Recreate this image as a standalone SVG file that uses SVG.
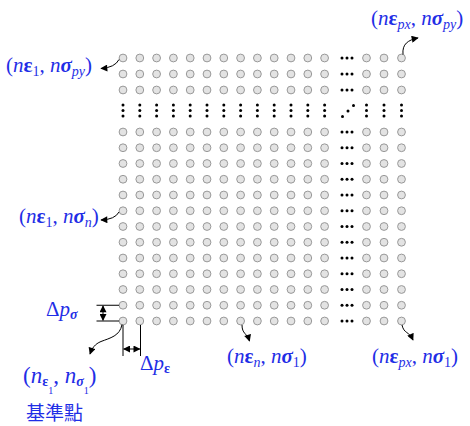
<svg xmlns="http://www.w3.org/2000/svg" xmlns:xlink="http://www.w3.org/1999/xlink" width="470" height="426" viewBox="0 0 470 426">
<style>
.pt{fill:#e3e3e3;stroke:#999;stroke-width:1}
.dt{fill:#000}
.lbl{font-family:"Liberation Serif","DejaVu Serif",serif;font-size:21px;fill:#1f2ee6}
.it{font-style:italic}
.b{font-weight:bold}
.sub{font-size:14px}
.ss{font-size:10px}
.big{font-size:23px}
.cjk{font-family:"Noto Sans CJK TC","Noto Sans CJK SC",sans-serif;font-size:19px;fill:#1f2ee6}
.con{fill:none;stroke:#000;stroke-width:1}
</style>
<defs>
<marker id="ah" viewBox="0 0 10 10" refX="9" refY="5" markerWidth="8" markerHeight="7" orient="auto-start-reverse" markerUnits="userSpaceOnUse"><path d="M0,0 L10,5 L0,10 z" fill="#000"/></marker>
<g id="row">
<circle class="pt" cx="123" cy="0" r="3.9"/><circle class="pt" cx="139.8" cy="0" r="3.9"/><circle class="pt" cx="156.6" cy="0" r="3.9"/><circle class="pt" cx="173.4" cy="0" r="3.9"/><circle class="pt" cx="190.2" cy="0" r="3.9"/><circle class="pt" cx="207" cy="0" r="3.9"/><circle class="pt" cx="223.8" cy="0" r="3.9"/><circle class="pt" cx="240.6" cy="0" r="3.9"/><circle class="pt" cx="257.4" cy="0" r="3.9"/><circle class="pt" cx="274.2" cy="0" r="3.9"/><circle class="pt" cx="291" cy="0" r="3.9"/><circle class="pt" cx="307.8" cy="0" r="3.9"/><circle class="pt" cx="324.6" cy="0" r="3.9"/>
<circle class="dt" cx="342" cy="0" r="1.5"/><circle class="dt" cx="347" cy="0" r="1.5"/><circle class="dt" cx="352" cy="0" r="1.5"/>
<circle class="pt" cx="366.5" cy="0" r="3.9"/><circle class="pt" cx="384" cy="0" r="3.9"/><circle class="pt" cx="401.5" cy="0" r="3.9"/>
</g>
<g id="vd"><circle class="dt" cx="0" cy="-5.5" r="1.5"/><circle class="dt" cx="0" cy="0" r="1.5"/><circle class="dt" cx="0" cy="5.5" r="1.5"/></g>
</defs>

<g id="grid">
<use href="#row" y="58"/><use href="#row" y="74"/><use href="#row" y="90"/>
<g id="dots-row" transform="translate(0,110.5)">
<use href="#vd" x="123"/><use href="#vd" x="139.8"/><use href="#vd" x="156.6"/><use href="#vd" x="173.4"/><use href="#vd" x="190.2"/><use href="#vd" x="207"/><use href="#vd" x="223.8"/><use href="#vd" x="240.6"/><use href="#vd" x="257.4"/><use href="#vd" x="274.2"/><use href="#vd" x="291"/><use href="#vd" x="307.8"/><use href="#vd" x="324.6"/>
<circle class="dt" cx="342.5" cy="6" r="1.5"/><circle class="dt" cx="348" cy="0.5" r="1.5"/><circle class="dt" cx="353.5" cy="-5" r="1.5"/>
<use href="#vd" x="366.5"/><use href="#vd" x="384"/><use href="#vd" x="401.5"/>
</g>
<use href="#row" y="132"/><use href="#row" y="147.75"/><use href="#row" y="163.5"/><use href="#row" y="179.25"/><use href="#row" y="195"/><use href="#row" y="210.75"/><use href="#row" y="226.5"/><use href="#row" y="242.25"/><use href="#row" y="258"/><use href="#row" y="273.75"/><use href="#row" y="289.5"/><use href="#row" y="305.25"/><use href="#row" y="321"/>
</g>

<g id="connectors">
<path class="con" d="M119,59.5 Q115,67.5 101,68.5" marker-end="url(#ah)"/>
<path class="con" d="M403,54.5 C402,44 408,40 418,38" marker-end="url(#ah)"/>
<path class="con" d="M119,212 Q115,219.5 101,220" marker-end="url(#ah)"/>
<path class="con" d="M242,325 C242,334 247,333 249.5,341" marker-end="url(#ah)"/>
<path class="con" d="M402,325 C404,334 409,331 413,340" marker-end="url(#ah)"/>
<path class="con" d="M122,324.5 C120,336 110,338 101,341.5 C95,344 92,348 90,354" marker-end="url(#ah)"/>
<g id="dim-sigma">
<path class="con" d="M96.5,305.25 H119.1 M96.5,321 H119.1"/>
<path class="con" d="M103,306 V320.3" marker-start="url(#ah)" marker-end="url(#ah)"/>
</g>
<g id="dim-eps">
<path class="con" d="M123,325 V356 M140.5,325 V356"/>
<path class="con" d="M123.7,349 H139.8" marker-start="url(#ah)" marker-end="url(#ah)"/>
</g>
</g>

<g id="label-top-left"><text class="lbl" x="6" y="72">(<tspan class="it">n</tspan><tspan class="b">ε</tspan><tspan class="sub" dy="4">1</tspan><tspan dy="-4">, </tspan><tspan class="it">n</tspan><tspan class="it b">σ</tspan><tspan class="sub it" dy="4">py</tspan><tspan dy="-4">)</tspan></text></g>
<g id="label-top-right"><text class="lbl" x="371" y="25">(<tspan class="it">n</tspan><tspan class="b">ε</tspan><tspan class="sub it" dy="4">px</tspan><tspan dy="-4">, </tspan><tspan class="it">n</tspan><tspan class="it b">σ</tspan><tspan class="sub it" dy="4">py</tspan><tspan dy="-4">)</tspan></text></g>
<g id="label-mid-left"><text class="lbl" x="19" y="223">(<tspan class="it">n</tspan><tspan class="b">ε</tspan><tspan class="sub" dy="4">1</tspan><tspan dy="-4">, </tspan><tspan class="it">n</tspan><tspan class="it b">σ</tspan><tspan class="sub it" dy="4">n</tspan><tspan dy="-4">)</tspan></text></g>
<g id="label-bottom-mid"><text class="lbl" x="227" y="363">(<tspan class="it">n</tspan><tspan class="b">ε</tspan><tspan class="sub it" dy="4">n</tspan><tspan dy="-4">, </tspan><tspan class="it">n</tspan><tspan class="it b">σ</tspan><tspan class="sub" dy="4">1</tspan><tspan dy="-4">)</tspan></text></g>
<g id="label-bottom-right"><text class="lbl" x="372" y="363">(<tspan class="it">n</tspan><tspan class="b">ε</tspan><tspan class="sub it" dy="4">px</tspan><tspan dy="-4">, </tspan><tspan class="it">n</tspan><tspan class="it b">σ</tspan><tspan class="sub" dy="4">1</tspan><tspan dy="-4">)</tspan></text></g>
<g id="label-dp-sigma"><text class="lbl" x="46" y="316">Δ<tspan class="it">p</tspan><tspan class="sub it b" dy="3">σ</tspan></text></g>
<g id="label-dp-eps"><text class="lbl" x="140" y="370">Δ<tspan class="it">p</tspan><tspan class="sub b" dy="3">ε</tspan></text></g>
<g id="label-base">
<text class="lbl big" x="23" y="383">(<tspan class="it">n</tspan><tspan class="sub b" dy="3">ε</tspan><tspan class="ss" dy="8">1</tspan><tspan dy="-11">, </tspan><tspan class="it">n</tspan><tspan class="sub it b" dy="3">σ</tspan><tspan class="ss" dy="8">1</tspan><tspan dy="-11">)</tspan></text>
<text class="cjk" x="26" y="420">基準點</text>
</g>
</svg>
